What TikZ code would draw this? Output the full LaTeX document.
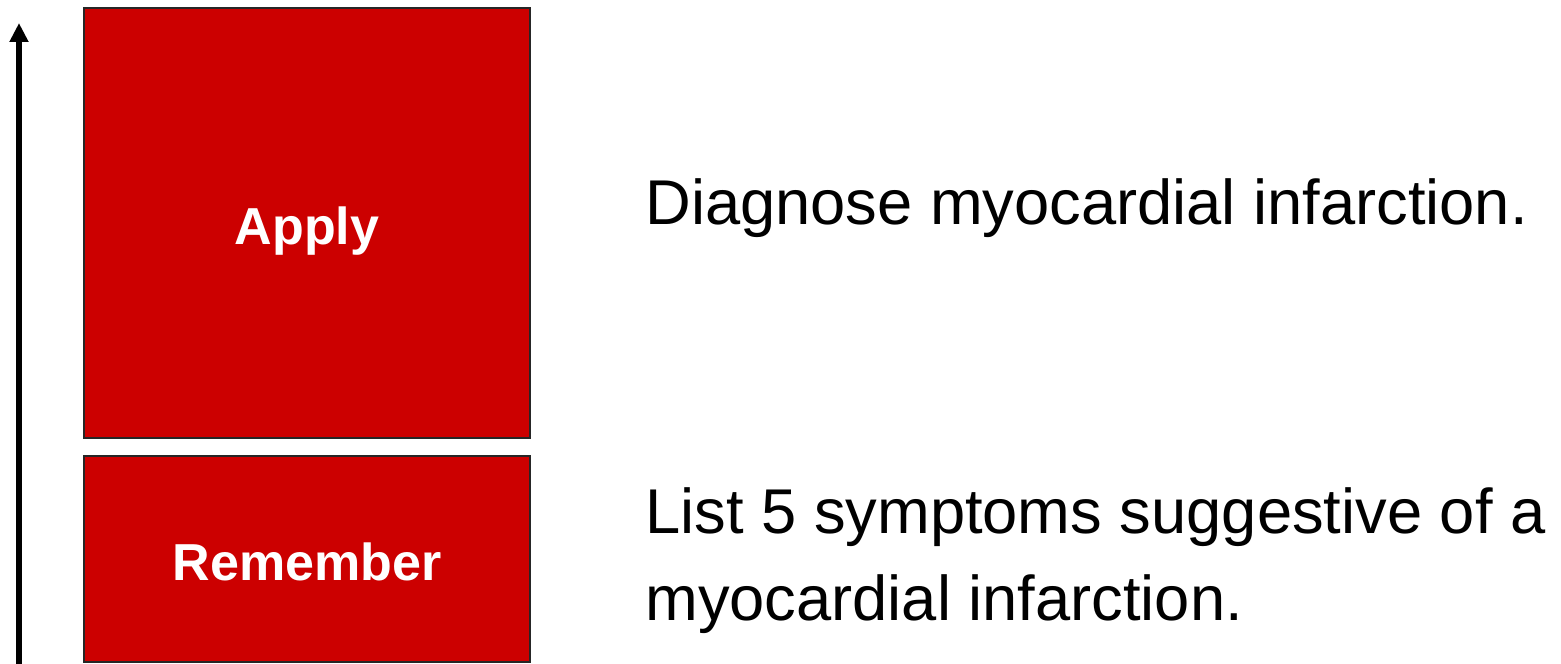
\documentclass[tikz,border=0pt]{standalone}
\usepackage{fontspec}
\setmainfont{Liberation Sans}
\usepackage{xcolor}
\usetikzlibrary{arrows.meta,positioning}
\definecolor{bloomred}{HTML}{CC0000}

\begin{document}
\begin{tikzpicture}[
  level/.style={rectangle, draw=black!85, line width=1.4pt, fill=bloomred,
                minimum width=8.92cm, inner sep=0pt},
  lvltext/.style={text=white, font=\fontsize{29.6}{34}\selectfont\bfseries, inner sep=0pt},
  goal/.style={font=\fontsize{36}{50}\selectfont, align=left, inner sep=0pt, anchor=base west},
  arr/.style={-{Triangle[length=0.38cm,width=0.36cm]}, line width=3pt}
]
\useasboundingbox (0,0) rectangle (31.22,13.28);

% the two levels
\node[level, minimum height=4.12cm] (remember) at (6.14,2.1) {};
\node[level, minimum height=8.6cm] (apply) at (6.14,8.82) {};

\node[lvltext] (remembertxt) at ([yshift=-0.06cm]remember.center) {Remember};
\node[lvltext] (applytxt) at ([yshift=-0.16cm]apply.center) {Apply};

% objectives
\node[goal] (applygoal) at (12.9,8.78) {Diagnose myocardial infarction.};
\node[goal] (remembergoal) at (12.9,0.86) {List 5 symptoms suggestive of a\\myocardial infarction.};

% rising arrow
\coordinate (arrbot) at (0.38,-0.1);
\coordinate (arrtop) at (0.38,12.82);
\draw[arr] (arrbot) -- (arrtop);
\end{tikzpicture}
\end{document}
